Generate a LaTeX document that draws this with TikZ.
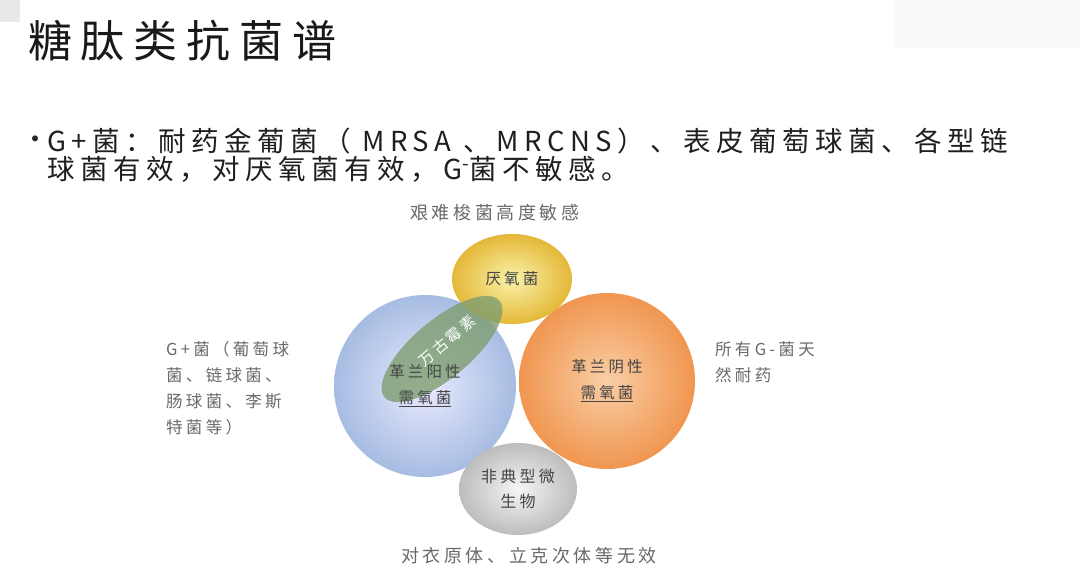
\documentclass[tikz,border=0pt]{standalone}
\usepackage{fontspec}
\setmainfont{Noto Sans CJK SC}[LetterSpace=20]
\usetikzlibrary{shapes.geometric}
\definecolor{labelgray}{HTML}{6A6A6A}
\definecolor{circtext}{HTML}{454545}
\definecolor{vancogreen}{HTML}{7E9E70}
\begin{document}
\begin{tikzpicture}[x=1pt,y=-1pt,
  bubble/.style={ellipse, inner sep=0pt, align=center, text=circtext, font=\fontsize{15.5}{26}\selectfont},
  sidetext/.style={text=labelgray, inner sep=0pt, align=left, font=\fontsize{16.5}{26}\selectfont},
  caption/.style={text=labelgray, inner sep=0pt, font=\fontsize{18}{22}\selectfont}]
\useasboundingbox[fill=white] (0,0) rectangle (1080,583);
\fill[gray!18] (0,0) rectangle (20,22);
\fill[black!2] (893,0) rectangle (1080,48);

% title and bullet text
\node[anchor=west, inner sep=0pt, text=black!90, font=\fontsize{44}{50}\selectfont] (title) at (28,41) {糖肽类抗菌谱};
\node[inner sep=0pt, text=black!85, font=\fontsize{28}{28}\selectfont] (dot) at (35,143) {•};
\node[anchor=west, inner sep=0pt, align=left, text=black!88, font=\fontsize{27.5}{27.5}\selectfont] (spectrum) at (47,155)
  {G+菌：耐药金葡菌（ MRSA 、MRCNS）、表皮葡萄球菌、各型链\\球菌有效，对厌氧菌有效，G\textsuperscript{-}菌不敏感。};

% circles
\node[bubble, circle, minimum size=182, inner color=blue!8, outer color={rgb,255:red,166;green,188;blue,226}] (gpos) at (425,386) {};
\node[bubble, circle, minimum size=176, inner color={rgb,255:red,250;green,206;blue,166}, outer color={rgb,255:red,240;green,150;blue,80}] (gneg) at (607,381) {革兰阴性\\\underline{需氧菌}};
\node[bubble, minimum width=120, minimum height=90, inner color={rgb,255:red,250;green,242;blue,170}, outer color={rgb,255:red,228;green,184;blue,56}] (anaerobe) at (512,279) {厌氧菌};
\node[bubble, minimum width=150, minimum height=58, rotate=40, fill=vancogreen, fill opacity=0.8] (vanco) at (442,349) {};
\node[bubble, rotate=40, text=white, font=\fontsize{15}{15}\selectfont] (vancolabel) at (447,341) {万古霉素};
\node[bubble] (gposlabel) at (gpos) {革兰阳性\\\underline{需氧菌}};
\node[bubble, minimum width=118, minimum height=92, inner color=white!96!black, outer color=black!26, font=\fontsize{16}{25}\selectfont] (atypical) at (518,489) {非典型微\\生物};

% labels round the circles
\node[caption] (difficile) at (495,213) {艰难梭菌高度敏感};
\node[caption] (chlamydia) at (529,556) {对衣原体、立克次体等无效};
\node[sidetext, anchor=west] (gposnote) at (166,388) {G+菌（葡萄球\\菌、链球菌、\\肠球菌、李斯\\特菌等）};
\node[sidetext, anchor=west] (gnegnote) at (715,362) {所有G-菌天\\然耐药};
\end{tikzpicture}
\end{document}
